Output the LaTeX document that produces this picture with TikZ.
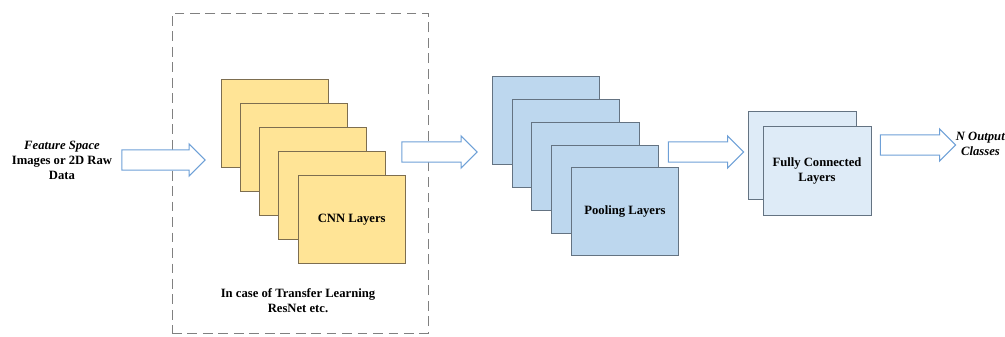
\documentclass[tikz,border=0pt]{standalone}
\usepackage{fontspec}
\setmainfont{Liberation Serif}
\usepackage{xcolor}
\usetikzlibrary{positioning, shapes.arrows}

\definecolor{cnnfill}{RGB}{255,228,150}
\definecolor{cnnline}{RGB}{125,110,80}
\definecolor{poolfill}{RGB}{189,215,238}
\definecolor{poolline}{RGB}{100,115,130}
\definecolor{fcfill}{RGB}{222,235,247}
\definecolor{arrowline}{RGB}{110,160,215}

\begin{document}
\begin{tikzpicture}[
    x=0.025cm, y=-0.025cm,
    font=\fontsize{9}{10.7}\selectfont\bfseries,
    cnn/.style={rectangle, draw=cnnline, fill=cnnfill, line width=0.6pt, minimum width=2.675cm, minimum height=2.2cm},
    pool/.style={rectangle, draw=poolline, fill=poolfill, line width=0.6pt, minimum width=2.675cm, minimum height=2.2cm},
    fc/.style={rectangle, draw=poolline, fill=fcfill, line width=0.6pt, minimum width=2.7cm, minimum height=2.22cm},
    blockarrow/.style={single arrow, draw=arrowline, fill=white, line width=0.7pt, inner sep=0pt, inner ysep=0.24cm, single arrow head extend=0.15cm, minimum height=1.88cm},
    label/.style={align=center}
]
    \useasboundingbox (0,0) rectangle (1005,336);

    % Transfer learning frame
    \node[draw=gray, dash pattern=on 7pt off 4pt, line width=0.6pt, minimum width=6.4cm, minimum height=8cm] (frame) at (300,173) {};
    \node[label] (tl) at (298,301) {In case of Transfer Learning\\ResNet etc.};

    % Input
    \node[label] (input) at (62,160) {\textit{Feature Space}\\Images or 2D Raw\\Data};
    \node[blockarrow, minimum height=2.08cm] (a1) at (158.5,160) {};

    % CNN layers
    \node[cnn] (c1) at (274.5,123.5) {};
    \node[cnn] (c2) at (293.8,147.5) {};
    \node[cnn] (c3) at (313,171.5) {};
    \node[cnn] (c4) at (332.4,195.5) {};
    \node[cnn] (c5) at (351.7,219.5) {CNN Layers};

    \node[blockarrow] (a2) at (434.5,152) {};

    % Pooling layers
    \node[pool] (p1) at (545.8,120.8) {};
    \node[pool] (p2) at (565.6,143.5) {};
    \node[pool] (p3) at (585.4,166.2) {};
    \node[pool] (p4) at (605.2,189) {};
    \node[pool] (p5) at (625,211.7) {Pooling Layers};

    \node[blockarrow] (a3) at (701,152) {};

    % Fully connected layers
    \node[fc] (f1) at (802,155.5) {};
    \node[fc, label] (f2) at (817,171.3) {Fully Connected\\Layers};

    % Output
    \node[blockarrow] (a4) at (913,145) {};
    \node[label] (output) at (980.5,144) {\textit{N Output}\\\textit{Classes}};
\end{tikzpicture}
\end{document}
